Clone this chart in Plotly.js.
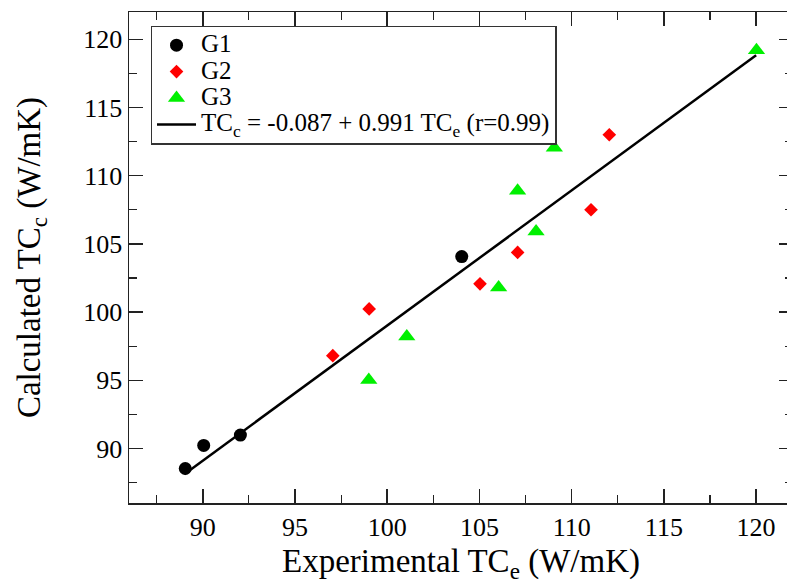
<!DOCTYPE html>
<html>
<head>
<meta charset="utf-8">
<script src="https://cdn.plot.ly/plotly-3.0.1.min.js"></script>
<style>
html, body { margin: 0; padding: 0; overflow: hidden; background: #fff; }
#chart { width: 800px; height: 584px; }
</style>
</head>
<body>
<div id="chart"></div>
<script>
// Data
const g1X = [89.05, 90.05, 92.04, 104.04];
const g1Y = [88.53, 90.22, 90.98, 104.07];

const g2X = [97.05, 99.02, 105.03, 107.07, 111.05, 112.04];
const g2Y = [96.8, 100.23, 102.07, 104.37, 107.5, 113.0];

const g3X = [99.0, 101.06, 106.04, 107.07, 108.07, 109.06, 120.02];
const g3Y = [95.02, 98.2, 101.8, 108.9, 105.9, 112.05, 119.2];

// Fit line endpoints (TCc = -0.087 + 0.991 TCe)
const fitX = [89.0, 120.0];
const fitY = [88.11, 118.83];

const seriesNames = ['G1', 'G2', 'G3', 'TC<sub>c</sub> = -0.087 + 0.991 TC<sub>e</sub> (r=0.99)'];

const xTicks = [90, 95, 100, 105, 110, 115, 120];
const yTicks = [90, 95, 100, 105, 110, 115, 120];

const serif = "'Liberation Serif', 'Times New Roman', serif";
const big = s => '<span style="font-size:25px">' + s + '</span>';

const traces = [
  { x: g1X, y: g1Y, type: 'scatter', mode: 'markers', name: big(seriesNames[0]),
    marker: { symbol: 'circle', size: 13, color: '#000000' } },
  { x: g2X, y: g2Y, type: 'scatter', mode: 'markers', name: big(seriesNames[1]),
    marker: { symbol: 'diamond', size: 10.5, color: '#ff0000' } },
  { x: g3X, y: g3Y, type: 'scatter', mode: 'markers', name: big(seriesNames[2]),
    marker: { symbol: 'triangle-up', size: 15, color: '#00f000' } },
  { x: fitX, y: fitY, type: 'scatter', mode: 'lines', name: big(seriesNames[3]),
    line: { color: '#000000', width: 2.5 } }
];

const axisCommon = {
  showgrid: false, zeroline: false,
  showline: true, linecolor: '#222', linewidth: 1.5, mirror: 'ticks',
  ticks: 'inside', ticklen: 14, tickwidth: 1.5, tickcolor: '#222',
  tickfont: { family: serif, size: 26, color: '#000' },
  minor: { ticks: 'inside', ticklen: 8, tickwidth: 1.2, tickcolor: '#222', dtick: 2.5 }
};

const layout = {
  width: 800, height: 584,
  margin: { l: 129, r: 7, t: 12, b: 81 },
  paper_bgcolor: '#fff', plot_bgcolor: '#fff',
  showlegend: true,
  xaxis: Object.assign({}, axisCommon, {
    range: [86, 122], tickvals: xTicks, ticktext: xTicks.map(String),
    title: { text: 'Experimental TC<sub>e</sub> (W/mK)', font: { family: serif, size: 33, color: '#000' }, standoff: 8 }
  }),
  yaxis: Object.assign({}, axisCommon, {
    range: [86, 122], tickvals: yTicks, ticktext: yTicks.map(String),
    title: { text: 'Calculated TC<sub>c</sub> (W/mK)', font: { family: serif, size: 33, color: '#000' }, standoff: 32 }
  }),
  legend: {
    x: 0.0324, y: 0.9725, xanchor: 'left', yanchor: 'top',
    bgcolor: '#fff', bordercolor: '#333', borderwidth: 1.5,
    font: { family: serif, size: 18, color: '#000' },
    itemwidth: 39, tracegroupgap: 0
  }
};

Plotly.newPlot('chart', traces, layout, { displayModeBar: false, staticPlot: true });
</script>
</body>
</html>
